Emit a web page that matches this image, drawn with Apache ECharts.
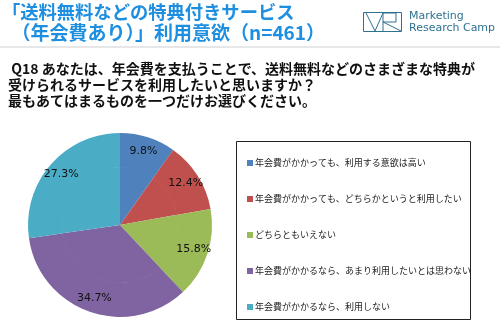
<!DOCTYPE html>
<html><head><meta charset="utf-8">
<script src="https://cdn.jsdelivr.net/npm/echarts@6/dist/echarts.min.js"></script>
<style>html,body{margin:0;padding:0;background:#fff}#c{width:500px;height:332px}</style>
</head><body><div id="c"></div>
<script>
const categories = [
  "年会費がかかっても、利用する意欲は高い",
  "年会費がかかっても、どちらかというと利用したい",
  "どちらともいえない",
  "年会費がかかるなら、あまり利用したいとは思わない",
  "年会費がかかるなら、利用しない"
];
const values = [9.8, 12.4, 15.8, 34.7, 27.3];
const colors = ["#4F81BD", "#C0504D", "#9BBB59", "#8064A2", "#4BACC6"];
const titleLines = ["「送料無料などの特典付きサービス", "　（年会費あり）」利用意欲（n=461）"];
const questionLines = [
  " Q18 あなたは、年会費を支払うことで、送料無料などのさまざまな特典が",
  "受けられるサービスを利用したいと思いますか？",
  "最もあてはまるものを一つだけお選びください。"
];

const data = categories.map((n, i) => ({ name: n, value: values[i], itemStyle: { color: colors[i] } }));
const jp = '"Noto Sans CJK JP", sans-serif';
const chart = echarts.init(document.getElementById('c'));
chart.setOption({
  animation: false,
  backgroundColor: '#fff',
  legend: {
    orient: 'vertical', left: 242, top: 152,
    icon: 'rect', itemWidth: 6, itemHeight: 6, itemGap: 24,
    textStyle: { fontFamily: jp, fontSize: 9, color: '#222', lineHeight: 12, padding: [0, 0, 0, -3] },
    data: categories
  },
  graphic: [
    { type: 'text', left: 2, top: 3, style: { text: titleLines[0], font: 'bold 18.3px ' + jp, fill: '#1E8FE0' } },
    { type: 'text', left: 2, top: 23, style: { text: titleLines[1], font: 'bold 19px ' + jp, fill: '#1E8FE0' } },
    { type: 'line', shape: { x1: 0, y1: 47, x2: 500, y2: 47 }, style: { stroke: '#cfcfcf', lineWidth: 1 } },
    { type: 'rect', shape: { x: 363.5, y: 12.5, width: 38, height: 19 }, style: { fill: 'none', stroke: '#2f7191', lineWidth: 1 } },
    { type: 'polyline', shape: { points: [[366, 13], [375, 31], [383, 13], [383, 31]] }, style: { fill: 'none', stroke: '#2f7191', lineWidth: 1 } },
    { type: 'polyline', shape: { points: [[383, 13], [396, 13], [396, 22], [383, 22], [401, 31]] }, style: { fill: 'none', stroke: '#2f7191', lineWidth: 1 } },
    { type: 'text', left: 409, top: 11, style: { text: 'Marketing', font: '11px "DejaVu Sans", sans-serif', fill: '#2f7191' } },
    { type: 'text', left: 409, top: 23, style: { text: 'Research Camp', font: '11px "DejaVu Sans", sans-serif', fill: '#2f7191' } },
    { type: 'text', left: 8, top: 62, style: { text: questionLines[0], font: 'bold 14px ' + jp, fill: '#111' } },
    { type: 'text', left: 8, top: 78, style: { text: questionLines[1], font: 'bold 14px ' + jp, fill: '#111' } },
    { type: 'text', left: 8, top: 94, style: { text: questionLines[2], font: 'bold 14px ' + jp, fill: '#111' } },
    { type: 'rect', shape: { x: 236.5, y: 141.5, width: 234, height: 178 }, style: { fill: 'none', stroke: '#222', lineWidth: 1 } }
  ],
  series: [
    {
      type: 'pie', center: [120, 225], radius: [0, 58], startAngle: 90, clockwise: true,
      label: { show: false }, labelLine: { show: false }, silent: true,
      itemStyle: { borderWidth: 0 }, data: data
    },
    {
      type: 'pie', center: [120, 225], radius: [57.5, 92], startAngle: 90, clockwise: true,
      label: { show: true, position: 'inside', formatter: p => p.value.toFixed(1) + '%', fontFamily: '"DejaVu Sans", sans-serif', fontSize: 11, color: '#111' },
      labelLine: { show: false },
      itemStyle: { borderWidth: 0 }, data: data
    }
  ]
});
</script></body></html>
